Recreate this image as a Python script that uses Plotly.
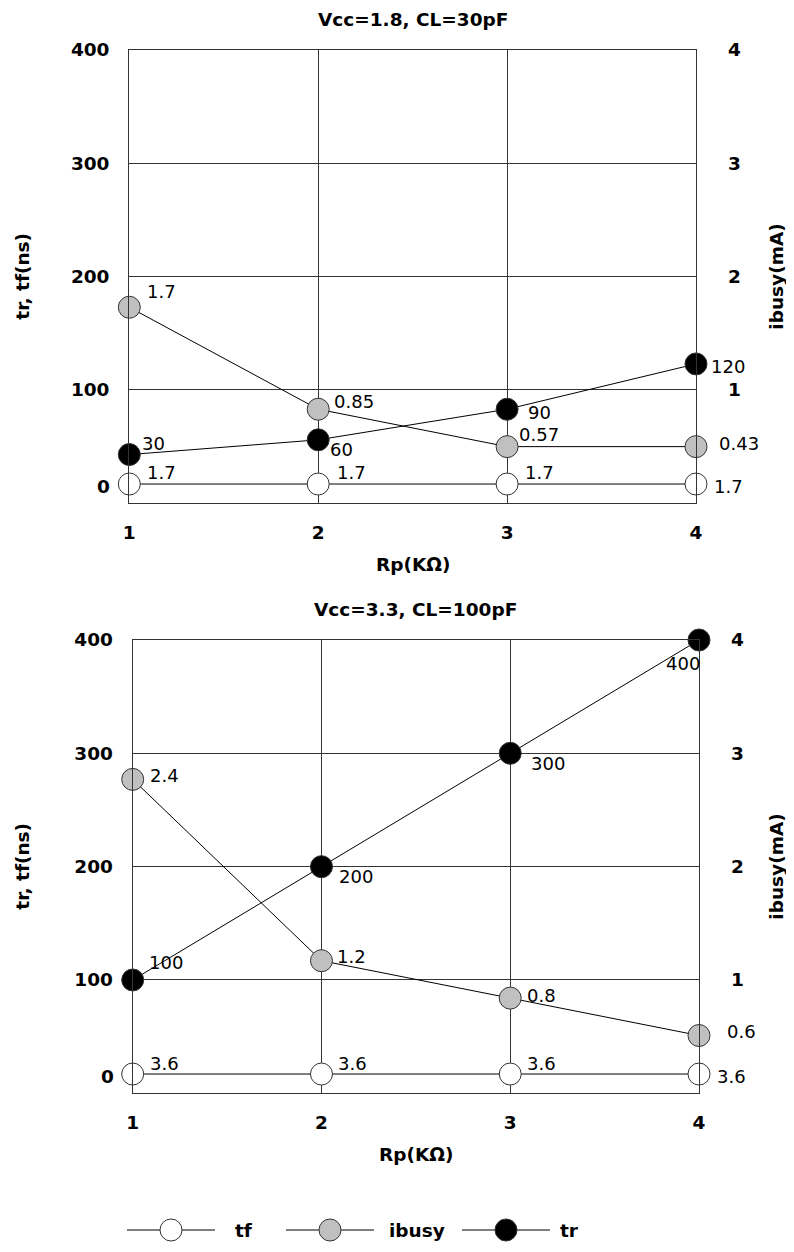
import plotly.graph_objects as go

W, H = 794, 1252

# ---------------- data ----------------
rp = [1, 2, 3, 4]
x_tick_text = ["1", "2", "3", "4"]
left_tickvals = [100, 200, 300, 400]
left_ticktext = ["100", "200", "300", "400"]
right_tickvals = [1, 2, 3, 4]
right_ticktext = ["1", "2", "3", "4"]

titles = ["Vcc=1.8, CL=30pF", "Vcc=3.3, CL=100pF"]
x_title = "Rp(KΩ)"
left_title = "tr, tf(ns)"
right_title = "ibusy(mA)"
series_names = ["tf", "ibusy", "tr"]

tf_pos_1 = [17, 17, 17, 17]
tf_lbl_1 = ["1.7", "1.7", "1.7", "1.7"]
ibusy_pos_1 = [1.73, 0.83, 0.50, 0.50]
ibusy_lbl_1 = ["1.7", "0.85", "0.57", "0.43"]
tr_pos_1 = [43, 56, 83, 123]
tr_lbl_1 = ["30", "60", "90", "120"]

# chart 2
tf_pos_2 = [17, 17, 17, 17]
tf_lbl_2 = ["3.6", "3.6", "3.6", "3.6"]
ibusy_pos_2 = [2.77, 1.17, 0.84, 0.51]
ibusy_lbl_2 = ["2.4", "1.2", "0.8", "0.6"]
tr_pos_2 = [100, 200, 300, 400]
tr_lbl_2 = ["100", "200", "300", "400"]

# ---------------- style ----------------
FONT = "DejaVu Sans"
BOLD = 18.5
LBL = 18
GRID = "#333333"
colors = {"tf": "white", "ibusy": "#c0c0c0", "tr": "black"}
SHIFT = 8  # page body margin

# label offsets in px (dx right, dy down, anchor)
off_1 = {
    "tf": [(16, -12, "left"), (17, -12, "left"), (16, -12, "left"), (16, 2, "left")],
    "ibusy": [(16, -16, "left"), (14, -8, "left"), (10, -12, "left"), (21, -3, "left")],
    "tr": [(11, -11, "left"), (10, 10, "left"), (19, 3, "left"), (13, 3, "left")],
}
off_2 = {
    "tf": [(15, -11, "left"), (15, -11, "left"), (15, -11, "left"), (16, 2, "left")],
    "ibusy": [(15, -4, "left"), (14, -4, "left"), (15, -3, "left"), (26, -4, "left")],
    "tr": [(14, -17, "left"), (16, 10, "left"), (19, 10, "left"), (3, 23, "right")],
}

# plot frames in screen px: (left, right, top, bottom)
frames = [(129.3, 696.0, 50.0, 503.3), (132.7, 699.0, 640.0, 1093.3)]


def px(x):
    return (x - SHIFT) / W


def py(y):
    return 1 - (y - SHIFT) / H


fig = go.Figure()

charts = [
    {"tf": (tf_pos_1, tf_lbl_1), "ibusy": (ibusy_pos_1, ibusy_lbl_1), "tr": (tr_pos_1, tr_lbl_1), "off": off_1},
    {"tf": (tf_pos_2, tf_lbl_2), "ibusy": (ibusy_pos_2, ibusy_lbl_2), "tr": (tr_pos_2, tr_lbl_2), "off": off_2},
]

annotations = []
shapes = []
layout_axes = {}
bold_font = dict(family=FONT, size=BOLD, color="black", weight="bold")

for i, ch in enumerate(charts):
    l, r, t, b = frames[i]
    xa = "x" if i == 0 else "x2"
    yl = "y" if i == 0 else "y3"
    yr = "y2" if i == 0 else "y4"
    xname = "xaxis" if i == 0 else "xaxis2"
    ylname = "yaxis" if i == 0 else "yaxis3"
    yrname = "yaxis2" if i == 0 else "yaxis4"

    layout_axes[xname] = dict(
        domain=[px(l), px(r)], range=[1, 4], anchor=yl,
        tickvals=rp, ticktext=x_tick_text, showgrid=True, gridcolor=GRID, gridwidth=1.2,
        showline=True, mirror=True, linecolor=GRID, linewidth=1.2, zeroline=False,
        ticks="", ticklabelstandoff=12, automargin=False, tickfont=bold_font,
    )
    layout_axes[ylname] = dict(
        domain=[py(b), py(t)], range=[0, 400], anchor=xa,
        tickvals=left_tickvals, ticktext=left_ticktext, showgrid=True, gridcolor=GRID, gridwidth=1.2,
        showline=True, mirror=True, linecolor=GRID, linewidth=1.2, zeroline=False,
        ticks="", ticklabelstandoff=15, automargin=False, tickfont=bold_font,
    )
    layout_axes[yrname] = dict(
        range=[0, 4], overlaying=yl, side="right", anchor=xa,
        tickvals=right_tickvals, ticktext=right_ticktext, showgrid=False, showline=False,
        zeroline=False, ticks="", ticklabelstandoff=31, automargin=False, tickfont=bold_font,
    )

    for name in series_names:
        vals, lbls = ch[name]
        yref = yr if name == "ibusy" else yl
        fig.add_trace(go.Scatter(
            x=rp, y=vals, name=name, mode="lines+markers", xaxis=xa, yaxis=yref,
            line=dict(color="black", width=1),
            marker=dict(size=22, color=colors[name], line=dict(color="#333333", width=1)),
            cliponaxis=False, showlegend=False, hoverinfo="skip",
        ))
        for k, (xv, yv, lb) in enumerate(zip(rp, vals, lbls)):
            dx, dy, anc = ch["off"][name][k]
            annotations.append(dict(
                x=xv, y=yv, xref=xa, yref=yref, text=lb, showarrow=False,
                xanchor=anc, yanchor="middle", xshift=dx, yshift=-dy,
                font=dict(family=FONT, size=LBL, color="black"),
            ))

    # "0" label on left axis (drawn slightly above the frame bottom, as in the picture)
    annotations.append(dict(
        x=1, y=0, xref=xa, yref=yl, text="0", showarrow=False, xanchor="right",
        yanchor="middle", xshift=-17, yshift=17, font=bold_font,
    ))
    cx = (l + r) / 2
    annotations.append(dict(
        x=px(cx), y=py(t - 31), xref="paper", yref="paper", text=titles[i], showarrow=False,
        xanchor="center", yanchor="middle", font=bold_font,
    ))
    annotations.append(dict(
        x=px(cx), y=py(b + 61), xref="paper", yref="paper", text=x_title, showarrow=False,
        xanchor="center", yanchor="middle", font=bold_font,
    ))
    cy = (t + b) / 2
    annotations.append(dict(
        x=px(23), y=py(cy), xref="paper", yref="paper", text=left_title, showarrow=False,
        xanchor="center", yanchor="middle", textangle=-90, font=bold_font,
    ))
    annotations.append(dict(
        x=px(777), y=py(cy), xref="paper", yref="paper", text=right_title, showarrow=False,
        xanchor="center", yanchor="middle", textangle=-90, font=bold_font,
    ))

# ---------------- custom legend ----------------
leg_y = 1230
leg_line_x0 = [127, 286, 462]
leg_line_len = 88
leg_text_x = [233, 387, 558]
for name, x0, tx in zip(series_names, leg_line_x0, leg_text_x):
    shapes.append(dict(type="line", xref="paper", yref="paper",
                       x0=px(x0), x1=px(x0 + leg_line_len), y0=py(leg_y), y1=py(leg_y),
                       line=dict(color="black", width=1)))
    cxm = x0 + leg_line_len / 2
    shapes.append(dict(type="circle", xref="paper", yref="paper",
                       xsizemode="pixel", ysizemode="pixel",
                       xanchor=px(cxm), yanchor=py(leg_y),
                       x0=-11, x1=11, y0=-11, y1=11,
                       fillcolor=colors[name], line=dict(color="#333333", width=1)))
    annotations.append(dict(
        x=px(tx), y=py(leg_y), xref="paper", yref="paper", text=name, showarrow=False,
        xanchor="left", yanchor="middle", font=bold_font,
    ))

fig.update_layout(
    width=W, height=H, margin=dict(l=0, r=0, t=0, b=0),
    paper_bgcolor="white", plot_bgcolor="white",
    showlegend=False, annotations=annotations, shapes=shapes,
    **layout_axes,
)

fig.write_html("out.html")
